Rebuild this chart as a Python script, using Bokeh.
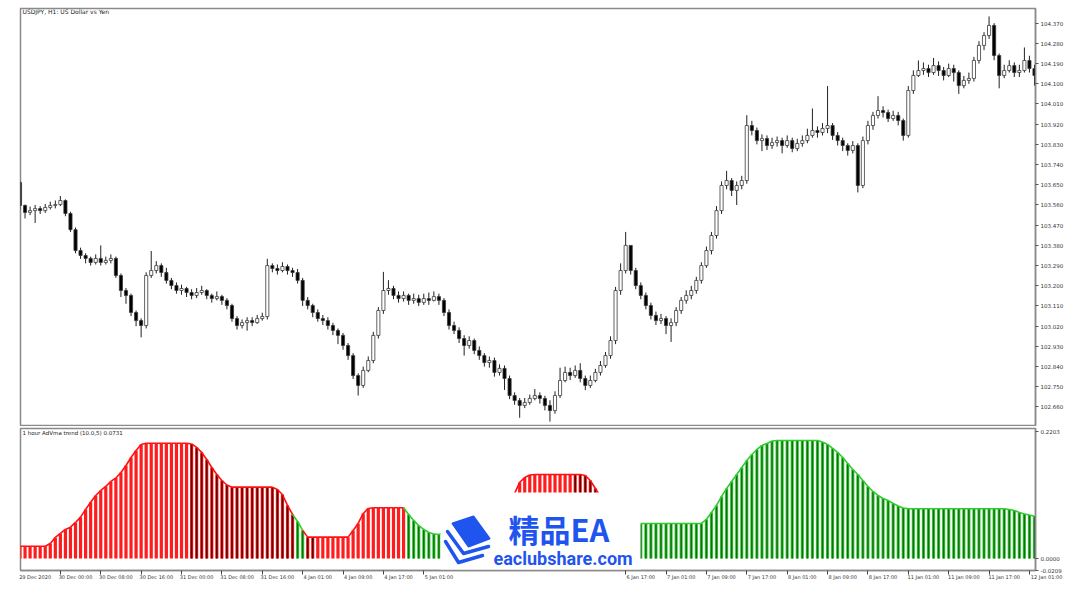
from bokeh.plotting import figure
from bokeh.layouts import column
from bokeh.models import FixedTicker, Range1d, LinearAxis, Label, NumeralTickFormatter, ColumnDataSource
from bokeh.embed import file_html
from bokeh.resources import INLINE

# ---------------- data (USDJPY H1) ----------------
opens = [103.660,103.558,103.527,103.535,103.544,103.535,103.549,103.558,103.562,103.580,
         103.522,103.450,103.357,103.335,103.322,103.304,103.322,103.304,103.313,103.322,
         103.246,103.179,103.157,103.081,103.045,103.023,103.246,103.268,103.290,103.259,
         103.224,103.201,103.179,103.188,103.170,103.157,103.170,103.179,103.157,103.143,
         103.152,103.135,103.112,103.054,103.023,103.036,103.045,103.036,103.054,103.063,
         103.290,103.277,103.268,103.286,103.268,103.259,103.224,103.135,103.112,103.081,
         103.054,103.045,103.023,103.001,102.979,102.934,102.889,102.800,102.756,102.823,
         102.867,102.979,103.090,103.179,103.188,103.157,103.143,103.157,103.135,103.143,
         103.126,103.143,103.135,103.152,103.135,103.081,103.023,103.001,102.965,102.934,
         102.956,102.912,102.889,102.858,102.867,102.814,102.832,102.787,102.711,102.689,
         102.667,102.680,102.698,102.711,102.698,102.667,102.644,102.711,102.778,102.814,
         102.800,102.823,102.787,102.756,102.778,102.814,102.845,102.889,102.956,103.179,
         103.268,103.380,103.268,103.201,103.157,103.112,103.068,103.045,103.054,103.023,
         103.036,103.090,103.135,103.157,103.179,103.224,103.290,103.357,103.424,103.535,
         103.647,103.669,103.625,103.647,103.669,103.914,103.892,103.847,103.856,103.825,
         103.838,103.847,103.825,103.847,103.812,103.834,103.847,103.870,103.892,103.883,
         103.901,103.914,103.870,103.847,103.825,103.803,103.825,103.647,103.847,103.914,
         103.959,103.981,103.972,103.945,103.959,103.936,103.870,104.070,104.137,104.159,
         104.168,104.150,104.181,104.159,104.137,104.168,104.150,104.092,104.115,104.124,
         104.204,104.271,104.315,104.360,104.226,104.137,104.159,104.181,104.150,104.159,
         104.204,104.168]
closes = [103.558,103.527,103.535,103.544,103.535,103.549,103.558,103.562,103.580,103.522,
          103.450,103.357,103.335,103.322,103.304,103.322,103.304,103.313,103.322,103.246,
          103.179,103.157,103.081,103.045,103.023,103.246,103.268,103.290,103.259,103.224,
          103.201,103.179,103.188,103.170,103.157,103.170,103.179,103.157,103.143,103.152,
          103.135,103.112,103.054,103.023,103.036,103.045,103.036,103.054,103.063,103.290,
          103.277,103.268,103.286,103.268,103.259,103.224,103.135,103.112,103.081,103.054,
          103.045,103.023,103.001,102.979,102.934,102.889,102.800,102.756,102.823,102.867,
          102.979,103.090,103.179,103.188,103.157,103.143,103.157,103.135,103.143,103.126,
          103.143,103.135,103.152,103.135,103.081,103.023,103.001,102.965,102.934,102.956,
          102.912,102.889,102.858,102.867,102.814,102.832,102.787,102.711,102.689,102.667,
          102.680,102.698,102.711,102.698,102.667,102.644,102.711,102.778,102.814,102.800,
          102.823,102.787,102.756,102.778,102.814,102.845,102.889,102.956,103.179,103.268,
          103.380,103.268,103.201,103.157,103.112,103.068,103.045,103.054,103.023,103.036,
          103.090,103.135,103.157,103.179,103.224,103.290,103.357,103.424,103.535,103.647,
          103.669,103.625,103.647,103.669,103.914,103.892,103.847,103.856,103.825,103.838,
          103.847,103.825,103.847,103.812,103.834,103.847,103.870,103.892,103.883,103.901,
          103.914,103.870,103.847,103.825,103.803,103.825,103.647,103.847,103.914,103.959,
          103.981,103.972,103.945,103.959,103.936,103.870,104.070,104.137,104.159,104.168,
          104.150,104.181,104.159,104.137,104.168,104.150,104.092,104.115,104.124,104.204,
          104.271,104.315,104.360,104.226,104.137,104.159,104.181,104.150,104.159,104.204,
          104.168,104.137]
highs = [103.669,103.562,103.553,103.560,103.555,103.565,103.575,103.580,103.600,103.585,
         103.530,103.460,103.370,103.345,103.330,103.340,103.380,103.330,103.340,103.330,
         103.255,103.190,103.165,103.090,103.055,103.260,103.355,103.310,103.300,103.280,
         103.235,103.215,103.205,103.195,103.185,103.190,103.200,103.185,103.165,103.175,
         103.160,103.145,103.120,103.065,103.050,103.060,103.060,103.070,103.080,103.320,
         103.300,103.295,103.305,103.295,103.280,103.275,103.235,103.150,103.120,103.095,
         103.070,103.060,103.035,103.010,102.990,102.945,102.900,102.810,102.840,102.885,
         102.995,103.105,103.262,103.225,103.200,103.175,103.175,103.165,103.165,103.160,
         103.165,103.170,103.175,103.165,103.145,103.095,103.040,103.015,102.980,102.975,
         102.965,102.930,102.900,102.885,102.880,102.850,102.845,102.800,102.725,102.700,
         102.700,102.715,102.740,102.725,102.710,102.690,102.730,102.835,102.840,102.835,
         102.845,102.855,102.800,102.800,102.830,102.865,102.905,102.975,103.195,103.300,
         103.440,103.355,103.280,103.215,103.170,103.125,103.085,103.075,103.065,103.055,
         103.105,103.150,103.180,103.200,103.240,103.305,103.375,103.440,103.555,103.665,
         103.712,103.680,103.665,103.690,103.960,103.935,103.905,103.875,103.870,103.860,
         103.865,103.860,103.870,103.860,103.855,103.870,103.900,103.990,103.910,103.925,
         104.090,103.925,103.885,103.860,103.835,103.845,103.835,103.865,103.935,103.975,
         104.045,104.000,103.985,103.980,103.975,103.945,104.090,104.160,104.204,104.195,
         104.185,104.215,104.200,104.175,104.190,104.185,104.160,104.135,104.150,104.220,
         104.290,104.330,104.400,104.370,104.235,104.185,104.205,104.195,104.185,104.262,
         104.225,104.185]
lows = [103.540,103.500,103.515,103.480,103.520,103.525,103.540,103.545,103.555,103.510,
        103.440,103.345,103.320,103.300,103.290,103.295,103.290,103.295,103.300,103.235,
        103.150,103.120,103.065,103.020,102.970,103.010,103.235,103.255,103.240,103.210,
        103.185,103.165,103.160,103.150,103.140,103.145,103.160,103.140,103.125,103.135,
        103.115,103.095,103.040,103.005,103.010,103.000,103.020,103.030,103.045,103.050,
        103.260,103.250,103.260,103.250,103.240,103.210,103.110,103.095,103.060,103.040,
        103.025,103.005,102.980,102.940,102.915,102.870,102.785,102.711,102.745,102.815,
        102.855,102.965,103.075,103.160,103.140,103.125,103.130,103.115,103.120,103.110,
        103.115,103.115,103.130,103.115,103.065,103.005,102.985,102.945,102.889,102.920,
        102.895,102.870,102.840,102.835,102.795,102.800,102.736,102.695,102.670,102.612,
        102.655,102.670,102.690,102.675,102.645,102.595,102.630,102.700,102.770,102.780,
        102.790,102.770,102.735,102.745,102.770,102.800,102.835,102.875,102.940,103.160,
        103.255,103.250,103.185,103.140,103.095,103.050,103.025,103.030,102.985,102.950,
        103.020,103.075,103.120,103.140,103.165,103.210,103.280,103.340,103.410,103.520,
        103.630,103.600,103.560,103.630,103.655,103.870,103.830,103.800,103.805,103.810,
        103.820,103.790,103.815,103.795,103.800,103.820,103.835,103.860,103.860,103.870,
        103.880,103.850,103.825,103.800,103.780,103.790,103.616,103.635,103.830,103.895,
        103.945,103.950,103.930,103.935,103.915,103.847,103.860,104.055,104.130,104.140,
        104.130,104.140,104.135,104.115,104.130,104.110,104.055,104.080,104.100,104.110,
        104.190,104.250,104.300,104.205,104.080,104.125,104.150,104.130,104.130,104.150,
        104.150,104.092]

trend = [0.0213,0.0213,0.0213,0.0213,0.0213,0.0213,0.0260,0.0364,0.0434,0.0503,
         0.0543,0.0625,0.0717,0.0850,0.0977,0.1093,0.1180,0.1250,0.1336,0.1397,
         0.1492,0.1613,0.1752,0.1874,0.1978,0.2000,0.2000,0.2000,0.2000,0.2000,
         0.2000,0.2000,0.2000,0.2000,0.1987,0.1926,0.1840,0.1718,0.1579,0.1457,
         0.1353,0.1275,0.1237,0.1237,0.1237,0.1237,0.1237,0.1237,0.1237,0.1237,
         0.1237,0.1197,0.1110,0.0920,0.0763,0.0642,0.0486,0.0370,0.0370,0.0370,
         0.0370,0.0370,0.0370,0.0370,0.0370,0.0370,0.0486,0.0607,0.0781,0.0868,
         0.0880,0.0880,0.0880,0.0880,0.0880,0.0880,0.0880,0.0763,0.0660,0.0570,
         0.0503,0.0451,0.0425,0.0417,0.0450,0.0450,0.0450,0.0450,0.0450,0.0450,
         0.0450,0.0450,0.0450,0.0450,0.0450,0.0450,0.0573,0.0830,0.1128,0.1319,
         0.1405,0.1449,0.1457,0.1457,0.1457,0.1457,0.1457,0.1457,0.1457,0.1457,
         0.1457,0.1457,0.1440,0.1353,0.1214,0.1076,0.0920,0.0798,0.0711,0.0660,
         0.0625,0.0607,0.0607,0.0607,0.0607,0.0607,0.0607,0.0607,0.0607,0.0607,
         0.0607,0.0607,0.0607,0.0607,0.0607,0.0607,0.0677,0.0798,0.0920,0.1076,
         0.1214,0.1336,0.1457,0.1579,0.1700,0.1804,0.1891,0.1960,0.1995,0.2039,
         0.2047,0.2047,0.2047,0.2047,0.2047,0.2047,0.2047,0.2047,0.2047,0.2021,
         0.1978,0.1909,0.1840,0.1752,0.1648,0.1544,0.1457,0.1353,0.1249,0.1162,
         0.1093,0.1041,0.1006,0.0954,0.0911,0.0876,0.0862,0.0862,0.0862,0.0862,
         0.0862,0.0862,0.0862,0.0862,0.0862,0.0862,0.0862,0.0862,0.0862,0.0862,
         0.0862,0.0862,0.0862,0.0862,0.0862,0.0862,0.0850,0.0833,0.0798,0.0772,
         0.0755,0.0731]
trend_state = ("R" * 34 + "D" * 21 + "G" * 2 + "D" * 2 + "R" * 18 + "G" * 20 +
               "R" * 13 + "D" * 6 + "G" * 86)

price_ticks = [104.370, 104.280, 104.190, 104.100, 104.010, 103.920, 103.830, 103.740,
               103.650, 103.560, 103.470, 103.380, 103.290, 103.200, 103.110, 103.020,
               102.930, 102.840, 102.750, 102.660]
trend_ticks = [-0.0209, 0.0, 0.2203]
time_tick_idx = [0, 8, 16, 24, 32, 40, 48, 56, 64, 72, 80, 120, 128, 136, 144, 152, 160,
                 168, 176, 184, 192, 200]
time_tick_labels = ["29 Dec 2020", "30 Dec 00:00", "30 Dec 08:00", "30 Dec 16:00",
                    "31 Dec 00:00", "31 Dec 08:00", "31 Dec 16:00", "4 Jan 01:00",
                    "4 Jan 09:00", "4 Jan 17:00", "5 Jan 01:00", "6 Jan 17:00",
                    "7 Jan 01:00", "7 Jan 09:00", "7 Jan 17:00", "8 Jan 01:00",
                    "8 Jan 09:00", "8 Jan 17:00", "11 Jan 01:00", "11 Jan 09:00",
                    "11 Jan 17:00", "12 Jan 01:00"]

# ---------------- styling ----------------
FONT = "DejaVu Sans"
GRAY = "#8a8a8a"
n = len(closes)
idx = list(range(n))
X0, X1 = 0.1, 201.2
xr = Range1d(X0, X1)

p = figure(width=1072, height=426, x_range=xr, y_range=Range1d(102.5731, 104.4355),
           output_backend="svg", toolbar_location=None, y_axis_location="right",
           x_axis_location=None, min_border_left=20, min_border_right=37,
           min_border_top=8, min_border_bottom=0)
p.grid.visible = False
p.outline_line_color = GRAY
p.outline_line_width = 1.5
p.background_fill_color = "white"
p.yaxis.ticker = FixedTicker(ticks=price_ticks)
p.yaxis.formatter = NumeralTickFormatter(format="0.000")
p.yaxis.axis_line_color = GRAY
p.yaxis.axis_line_width = 1.5
p.yaxis.major_tick_in = 0
p.yaxis.major_tick_out = 3
p.yaxis.major_tick_line_color = "#555555"
p.yaxis.minor_tick_line_color = None
p.yaxis.major_label_text_font = FONT
p.yaxis.major_label_text_font_size = "5.5px"
p.yaxis.major_label_text_color = "#333333"
p.yaxis.major_label_standoff = 2

bull = [c >= o for o, c in zip(opens, closes)]
src = ColumnDataSource(dict(
    x=idx, o=opens, h=highs, l=lows, c=closes,
    top=[max(o, c) for o, c in zip(opens, closes)],
    bot=[min(o, c) for o, c in zip(opens, closes)],
    fill=["white" if b else "black" for b in bull],
))
p.segment(x0="x", y0="l", x1="x", y1="h", source=src, line_color="#222222", line_width=1)
p.vbar(x="x", top="top", bottom="bot", width=0.62, source=src, fill_color="fill",
       line_color="#3a3a3a", line_width=0.8)

p.add_layout(Label(x=0.5, y=104.422, text="USDJPY, H1:  US Dollar vs Yen",
                   text_font=FONT, text_font_size="6px", text_color="#222222",
                   text_baseline="middle", text_align="left"))

# ---------------- indicator panel ----------------
q = figure(width=1072, height=161, x_range=xr, y_range=Range1d(-0.0209, 0.2255),
           output_backend="svg", toolbar_location=None, y_axis_location="right",
           min_border_left=20, min_border_right=37, min_border_top=2, min_border_bottom=17)
q.grid.visible = False
q.outline_line_color = GRAY
q.outline_line_width = 1.5
q.yaxis.ticker = FixedTicker(ticks=trend_ticks)
q.yaxis.formatter = NumeralTickFormatter(format="0.0000")
q.yaxis.axis_line_color = GRAY
q.yaxis.axis_line_width = 1.5
q.yaxis.major_tick_in = 0
q.yaxis.major_tick_out = 3
q.yaxis.major_tick_line_color = "#555555"
q.yaxis.minor_tick_line_color = None
q.yaxis.major_label_text_font = FONT
q.yaxis.major_label_text_font_size = "5.5px"
q.yaxis.major_label_text_color = "#333333"
q.yaxis.major_label_standoff = 2

bar_col = {"R": "#ff1c1c", "D": "#ff1c1c", "G": "#3ccf3c"}
core_col = {"R": None, "D": "#5a0000", "G": "#0e700e"}
env_col = {"R": "#ff1010", "D": "#ff1010", "G": "#2ecc2e"}
hsrc = ColumnDataSource(dict(x=idx, v=trend, z=[0.0] * n,
                             col=[bar_col[s] for s in trend_state]))
q.segment(x0="x", y0="z", x1="x", y1="v", source=hsrc, line_color="col", line_width=3.2)
core_idx = [i for i, s in enumerate(trend_state) if core_col[s]]
csrc = ColumnDataSource(dict(x=core_idx, v=[trend[i] for i in core_idx], z=[0.0] * len(core_idx),
                             col=[core_col[trend_state[i]] for i in core_idx]))
q.segment(x0="x", y0="z", x1="x", y1="v", source=csrc, line_color="col", line_width=1.5)
esrc = ColumnDataSource(dict(x0=idx[:-1], x1=idx[1:], y0=trend[:-1], y1=trend[1:],
                             col=[env_col[s] for s in trend_state[1:]]))
q.segment(x0="x0", y0="y0", x1="x1", y1="y1", source=esrc, line_color="col", line_width=1.6)

q.add_layout(Label(x=0.5, y=0.2175, text="1 hour AdVma trend (10.0,5) 0.0731",
                   text_font=FONT, text_font_size="5.5px", text_color="#222222",
                   text_baseline="middle", text_align="left"))

# time axis: tick marks
q.xaxis.ticker = FixedTicker(ticks=time_tick_idx)
q.xaxis.major_label_text_font_size = "1px"
q.xaxis.major_label_text_color = None
q.xaxis.major_label_standoff = 0
q.xaxis.major_tick_in = 0
q.xaxis.major_tick_out = 4
q.xaxis.major_tick_line_color = "#444444"
q.xaxis.minor_tick_line_color = None
q.xaxis.axis_line_color = GRAY
q.xaxis.axis_line_width = 1.5
# time axis: labels placed just right of each tick; the last one must stay inside the
# range, so it is padded on the left with no-break spaces to push its glyphs rightwards
shift = 3
lab_pos, lab_txt = [], []
for t, s in zip(time_tick_idx, time_tick_labels):
    if t + shift < X1:
        lab_pos.append(t + shift)
        lab_txt.append(s)
    else:
        lab_pos.append(X1 - 0.01)
        lab_txt.append("\u00a0" * 14 + s)
lab_axis = LinearAxis(ticker=FixedTicker(ticks=lab_pos),
                      major_label_overrides={x: s for x, s in zip(lab_pos, lab_txt)},
                      axis_line_color=None, major_tick_line_color=None,
                      minor_tick_line_color=None, major_label_standoff=-7,
                      major_label_text_font=FONT, major_label_text_font_size="5px",
                      major_label_text_color="#333333")
q.add_layout(lab_axis, "below")

# watermark overlay
xpx = lambda px: (px - 19.5) / 5.047
ypx = lambda py: 0.2255 - (py - 428) * 0.001735
q.quad(left=xpx(440), right=xpx(640), top=ypx(492), bottom=ypx(575), fill_color="white",
       line_color=None)
BLUE = "#1f55ee"
q.patch([xpx(452), xpx(473), xpx(489), xpx(468)], [ypx(523), ypx(516), ypx(538), ypx(546)],
        fill_color=BLUE, line_color=BLUE, line_width=2, line_join="round")
q.line([xpx(447), xpx(463), xpx(488)], [ypx(531), ypx(553), ypx(546)], line_color=BLUE,
       line_width=3.5, line_join="round", line_cap="round")
q.line([xpx(445), xpx(458), xpx(482)], [ypx(541), ypx(562), ypx(555)], line_color=BLUE,
       line_width=3.5, line_join="round", line_cap="round")
q.add_layout(Label(x=xpx(508), y=ypx(528), text="精品EA", text_font="Noto Sans CJK SC",
                   text_font_size="31px", text_font_style="bold", text_color=BLUE,
                   text_baseline="middle", text_align="left"))
q.add_layout(Label(x=xpx(493), y=ypx(558), text="eaclubshare.com", text_font="Roboto",
                   text_font_size="18px", text_font_style="bold", text_color=BLUE,
                   text_baseline="middle", text_align="left"))

layout = column(p, q)
open("out.html", "w").write(file_html(layout, INLINE))
